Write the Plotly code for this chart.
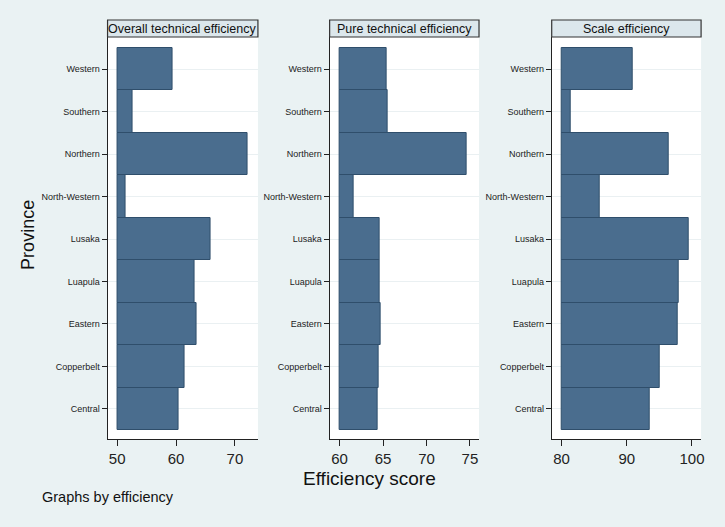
import plotly.graph_objects as go

# Province rows, bottom to top
provinces = ["Central", "Copperbelt", "Eastern", "Luapula", "Lusaka",
             "North-Western", "Northern", "Southern", "Western"]

# efficiency scores (%)
overall_te = [60.4, 61.5, 63.5, 63.1, 65.9, 51.5, 72.1, 52.6, 59.4]
pure_te = [64.4, 64.5, 64.7, 64.6, 64.6, 61.6, 74.6, 65.5, 65.4]
scale_eff = [93.5, 95.0, 97.8, 97.9, 99.5, 85.9, 96.4, 81.4, 90.9]

panel_titles = ["Overall technical efficiency", "Pure technical efficiency", "Scale efficiency"]
bar_base = [50, 60, 80]
x_ranges = [[48.37, 73.9], [58.85, 76.05], [78.48, 101.4]]
x_ticks = [[50, 60, 70], [60, 65, 70, 75], [80, 90, 100]]

BG = "#EAF2F3"
BAR = "#4A6D8E"
W, H = 725, 527
x_dom_px = [(108, 259), (331, 481), (554, 704)]
y_top, y_bot = 37, 439

fig = go.Figure()
ypos = list(range(1, len(provinces) + 1))
series = [overall_te, pure_te, scale_eff]

for i, vals in enumerate(series):
    n = "" if i == 0 else str(i + 1)
    fig.add_trace(go.Bar(
        y=ypos,
        x=[v - bar_base[i] for v in vals],
        base=bar_base[i],
        orientation="h",
        width=1,
        marker=dict(color=BAR, line=dict(color="#2F4E6B", width=1)),
        xaxis="x" + n, yaxis="y" + n,
        showlegend=False,
    ))
    x0, x1 = x_dom_px[i]
    fig.layout["xaxis" + n] = dict(
        domain=[x0 / W, x1 / W], anchor="y" + n, range=x_ranges[i],
        tickvals=x_ticks[i], ticks="outside", ticklen=6, tickcolor="#222",
        showgrid=False, zeroline=False, showline=True, linecolor="#222", linewidth=1,
        tickfont=dict(family="Liberation Sans Narrow, Arial Narrow, Arial", size=15, color="#222"),
    )
    fig.layout["yaxis" + n] = dict(
        domain=[(H - y_bot) / H, (H - y_top) / H], anchor="x" + n,
        range=[0.29, 9.76], tickvals=ypos, ticktext=provinces,
        ticks="outside", ticklen=5, tickcolor="#222", ticklabelstandoff=0,
        showgrid=True, gridcolor="#EAF0F2", gridwidth=1, zeroline=False,
        showline=True, linecolor="#222", linewidth=1,
        tickfont=dict(family="Liberation Sans, Arial", size=9, color="#222"),
    )
    # panel title box
    fig.add_shape(type="rect", xref="paper", yref="paper",
                  x0=x0 / W, x1=x1 / W, y0=(H - y_top) / H, y1=(H - 20) / H,
                  fillcolor="#DCE7EC", line=dict(color="#333", width=1.2))
    fig.add_annotation(text=panel_titles[i], xref="paper", yref="paper",
                       x=(x0 + x1) / 2 / W, y=(H - 28.5) / H, showarrow=False,
                       xanchor="center", yanchor="middle",
                       font=dict(family="Liberation Sans, Arial", size=12.5, color="#111"))

fig.add_annotation(text="Province", xref="paper", yref="paper", x=28 / W, y=(H - 235) / H,
                   textangle=-90, showarrow=False, xanchor="center", yanchor="middle",
                   font=dict(family="Liberation Sans, Arial", size=18, color="#111"))
fig.add_annotation(text="Efficiency score", xref="paper", yref="paper", x=371 / W, y=(H - 478) / H,
                   showarrow=False, xanchor="center", yanchor="middle",
                   font=dict(family="Liberation Sans Narrow, Arial Narrow, Arial", size=19, color="#111"))
fig.add_annotation(text="Graphs by efficiency", xref="paper", yref="paper", x=40 / W, y=(H - 497) / H,
                   showarrow=False, xanchor="left", yanchor="middle",
                   font=dict(family="Liberation Sans Narrow, Arial Narrow, Arial", size=14.5, color="#111"))

fig.update_layout(
    width=W, height=H,
    margin=dict(l=0, r=0, t=0, b=0),
    paper_bgcolor=BG, plot_bgcolor="white",
    bargap=0,
)

# drop the default page margin so the figure sits at the window corner
fig.write_html("out.html", config={"displayModeBar": False},
               post_script="document.body.style.margin='0';")
